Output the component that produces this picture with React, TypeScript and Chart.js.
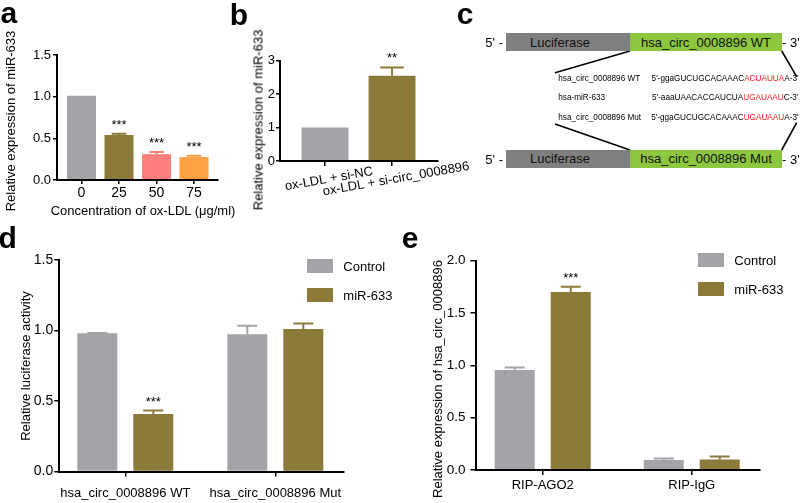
import React, { useEffect, useRef } from 'react';
import { Chart, registerables } from 'chart.js';

Chart.register(...registerables);

const FONT = "'Liberation Sans', Arial, Helvetica, sans-serif";
Chart.defaults.font.family = FONT;
Chart.defaults.color = '#000';

const GRAY = '#a4a3a8';
const OLIVE = '#8b7a3a';
const PINK = '#ff7f7f';
const ORANGE = '#ffa043';

// ---- panel a ----
const aCategories = ['0', '25', '50', '75'];
const aValues = [1.01, 0.54, 0.31, 0.275];
const aErrors = [0, 0.015, 0.025, 0.015];
const aStars = ['', '***', '***', '***'];
const aColors = [GRAY, OLIVE, PINK, ORANGE];

// ---- panel b ----
const bCategories = ['ox-LDL + si-NC', 'ox-LDL + si-circ_0008896'];
const bValues = [1.0, 2.55];
const bErrors = [0, 0.25];
const bStars = ['', '**'];
const bColors = [GRAY, OLIVE];

// ---- panel d ----
const dCategories = ['hsa_circ_0008896 WT', 'hsa_circ_0008896 Mut'];
const seriesNames = ['Control', 'miR-633'];
const dControl = [0.98, 0.974];
const dControlErr = [0.003, 0.06];
const dControlStars = ['', ''];
const dMiR = [0.407, 1.011];
const dMiRErr = [0.025, 0.038];
const dMiRStars = ['***', ''];

// ---- panel e ----
const eCategories = ['RIP-AGO2', 'RIP-IgG'];
const eControl = [0.955, 0.095];
const eControlErr = [0.025, 0.015];
const eControlStars = ['', ''];
const eMiR = [1.7, 0.1];
const eMiRErr = [0.05, 0.03];
const eMiRStars = ['***', ''];

// ---- panel c ----
const seqNames = ['hsa_circ_0008896 WT', 'hsa-miR-633', 'hsa_circ_0008896 Mut'];
const seqPrefix = ["5'-ggaGUCUGCACAAAC", "5'-aaaUAACACCAUCUA", "5'-ggaGUCUGCACAAAC"];
const seqSite = ['ACUAUUA', 'UGAUAAU', 'UGAUAAU'];
const seqSuffix = ["A-3'", "C-3'", "A-3'"];

type Series = { values: number[]; errors: number[]; stars: string[]; colors: string | string[] };
type PanelCfg = {
  left: number; top: number; width: number; height: number;
  yWidth: number; xHeight: number; padTop: number; padRight: number;
  categories: string[]; series: Series[];
  xMin: number; xMax: number; yMax: number; yStep: number; yDecimals: number;
  catPct: number; barPct: number;
  yFont: number; yPad: number; yTickLen: number;
  xFont: number; xPad: number; xTickLen: number; showXLabels: boolean;
  rotated?: { angle: number; dx: number; dy: number; font: number };
};

function BarPanel({ cfg }: { cfg: PanelCfg }) {
  const ref = useRef<HTMLCanvasElement>(null);
  useEffect(() => {
    const c = cfg;
    const overlay = {
      id: 'overlay',
      afterDatasetsDraw(chart: any) {
        const ctx = chart.ctx;
        const ys = chart.scales.y;
        c.series.forEach((s, di) => {
          const meta = chart.getDatasetMeta(di);
          meta.data.forEach((bar: any, i: number) => {
            const color = Array.isArray(s.colors) ? s.colors[i] : s.colors;
            const v = s.values[i];
            const e = s.errors[i];
            const yTop = ys.getPixelForValue(v + e);
            const w = bar.width;
            ctx.save();
            if (e > 0) {
              ctx.strokeStyle = color;
              ctx.lineWidth = 2;
              ctx.beginPath();
              ctx.moveTo(bar.x, ys.getPixelForValue(v));
              ctx.lineTo(bar.x, yTop);
              ctx.moveTo(bar.x - w / 4, yTop);
              ctx.lineTo(bar.x + w / 4, yTop);
              ctx.stroke();
            }
            if (s.stars[i]) {
              ctx.fillStyle = '#000';
              ctx.font = `13px ${FONT}`;
              ctx.textAlign = 'center';
              ctx.textBaseline = 'alphabetic';
              ctx.fillText(s.stars[i], bar.x, yTop - 5);
            }
            ctx.restore();
          });
        });
      },
      afterDraw(chart: any) {
        if (!c.rotated) return;
        const ctx = chart.ctx;
        const xs = chart.scales.x;
        const r = c.rotated;
        c.categories.forEach((label, i) => {
          const px = xs.getPixelForValue(i);
          ctx.save();
          ctx.translate(px + r.dx, chart.chartArea.bottom + r.dy);
          ctx.rotate((-r.angle * Math.PI) / 180);
          ctx.font = `${r.font}px ${FONT}`;
          ctx.fillStyle = '#000';
          ctx.textAlign = 'center';
          ctx.textBaseline = 'middle';
          ctx.fillText(label, 0, 0);
          ctx.restore();
        });
      },
    };
    const chart = new Chart(ref.current as HTMLCanvasElement, {
      type: 'bar',
      data: {
        datasets: c.series.map((s) => ({
          data: s.values.map((v, i) => ({ x: i, y: v })),
          backgroundColor: s.colors as any,
          borderWidth: 0,
          categoryPercentage: c.catPct,
          barPercentage: c.barPct,
        })),
      },
      options: {
        responsive: false,
        animation: false,
        devicePixelRatio: 1,
        events: [],
        layout: { padding: { top: c.padTop, right: c.padRight, left: 0, bottom: 0 } },
        plugins: { legend: { display: false }, tooltip: { enabled: false } },
        scales: {
          x: {
            type: 'linear',
            min: c.xMin,
            max: c.xMax,
            offset: false,
            grid: {
              display: true, offset: false, drawOnChartArea: false, drawTicks: true,
              tickLength: c.xTickLen, color: '#000', lineWidth: 1.5,
            },
            border: { display: true, color: '#000', width: 2, z: 1 },
            ticks: {
              display: c.showXLabels, stepSize: 1, includeBounds: false, autoSkip: false,
              minRotation: 0, maxRotation: 0, padding: c.xPad, color: '#000',
              font: { size: c.xFont },
              callback: (v: any) => (c.categories[v] !== undefined ? c.categories[v] : ''),
            },
            afterFit: (s: any) => { s.height = c.xHeight; },
          } as any,
          y: {
            type: 'linear',
            min: 0,
            max: c.yMax,
            grid: {
              display: true, drawOnChartArea: false, drawTicks: true,
              tickLength: c.yTickLen, color: '#000', lineWidth: 1.5,
            },
            border: { display: true, color: '#000', width: 2, z: 1 },
            ticks: {
              stepSize: c.yStep, padding: c.yPad, color: '#000',
              font: { size: c.yFont },
              callback: (v: any) => Number(v).toFixed(c.yDecimals),
            },
            afterFit: (s: any) => { s.width = c.yWidth; },
          } as any,
        },
      },
      plugins: [overlay],
    });
    return () => chart.destroy();
  }, [cfg]);
  return (
    <canvas
      ref={ref}
      width={cfg.width}
      height={cfg.height}
      style={{ position: 'absolute', left: cfg.left, top: cfg.top, width: cfg.width, height: cfg.height }}
    />
  );
}

const cfgA: PanelCfg = {
  left: 0, top: 0, width: 230, height: 230,
  yWidth: 57, xHeight: 50, padTop: 55, padRight: 12,
  categories: aCategories,
  series: [{ values: aValues, errors: aErrors, stars: aStars, colors: aColors }],
  xMin: -0.653, xMax: 3.64, yMax: 1.5, yStep: 0.5, yDecimals: 1,
  catPct: 1, barPct: 0.773,
  yFont: 13, yPad: 2, yTickLen: 4,
  xFont: 14, xPad: 1, xTickLen: 4, showXLabels: true,
};

const cfgB: PanelCfg = {
  left: 225, top: 0, width: 260, height: 230,
  yWidth: 55, xHeight: 69, padTop: 60.7, padRight: 47,
  categories: bCategories,
  series: [{ values: bValues, errors: bErrors, stars: bStars, colors: bColors }],
  xMin: -0.672, xMax: 1.686, yMax: 3, yStep: 1, yDecimals: 0,
  catPct: 1, barPct: 0.7,
  yFont: 13, yPad: 1, yTickLen: 4,
  xFont: 13, xPad: 0, xTickLen: 5, showXLabels: false,
  rotated: { angle: 10, dx: 4, dy: 18, font: 13 },
};

const cfgD: PanelCfg = {
  left: 0, top: 230, width: 400, height: 273,
  yWidth: 59.3, xHeight: 31.5, padTop: 30, padRight: 56.7,
  categories: dCategories,
  series: [
    { values: dControl, errors: dControlErr, stars: dControlStars, colors: GRAY },
    { values: dMiR, errors: dMiRErr, stars: dMiRStars, colors: OLIVE },
  ],
  xMin: -0.44, xMax: 1.4533, yMax: 1.5, yStep: 0.5, yDecimals: 1,
  catPct: 0.7467, barPct: 0.714,
  yFont: 14, yPad: 1, yTickLen: 5,
  xFont: 13, xPad: 9, xTickLen: 5, showXLabels: true,
};

const cfgE: PanelCfg = {
  left: 400, top: 230, width: 400, height: 273,
  yWidth: 75.5, xHeight: 33, padTop: 30.7, padRight: 40,
  categories: eCategories,
  series: [
    { values: eControl, errors: eControlErr, stars: eControlStars, colors: GRAY },
    { values: eMiR, errors: eMiRErr, stars: eMiRStars, colors: OLIVE },
  ],
  xMin: -0.451, xMax: 1.458, yMax: 2, yStep: 0.5, yDecimals: 1,
  catPct: 0.7517, barPct: 0.714,
  yFont: 13.5, yPad: 5, yTickLen: 5,
  xFont: 13, xPad: 3, xTickLen: 5, showXLabels: true,
};

function VText({ x, y, size, children }: { x: number; y: number; size: number; children: any }) {
  return (
    <div
      style={{
        position: 'absolute', left: x, top: y, fontSize: size, lineHeight: 1, whiteSpace: 'nowrap',
        transform: 'translate(-50%, -50%) rotate(-90deg)',
      }}
    >
      {children}
    </div>
  );
}

function HText({ x, y, size, children }: { x: number; y: number; size: number; children: any }) {
  return (
    <div
      style={{
        position: 'absolute', left: x, top: y, fontSize: size, lineHeight: 1, whiteSpace: 'nowrap',
        transform: 'translate(-50%, -50%)',
      }}
    >
      {children}
    </div>
  );
}

function Letter({ x, y, ch }: { x: number; y: number; ch: string }) {
  return (
    <div style={{ position: 'absolute', left: x, top: y, fontSize: 30, fontWeight: 'bold', lineHeight: '30px' }}>{ch}</div>
  );
}

function LegendItem({ x, y, textX, color, label }: { x: number; y: number; textX: number; color: string; label: string }) {
  return (
    <>
      <div style={{ position: 'absolute', left: x, top: y, width: 26, height: 14, background: color }} />
      <div style={{ position: 'absolute', left: textX, top: y + 7, fontSize: 13, lineHeight: 1, transform: 'translateY(-50%)', whiteSpace: 'nowrap' }}>{label}</div>
    </>
  );
}

function Construct({ top, name }: { top: number; name: string }) {
  const h = 17.7;
  return (
    <>
      <div style={{ position: 'absolute', left: 470, width: 33, top: top + h / 2, transform: 'translateY(-50%)', textAlign: 'right', fontSize: 13, lineHeight: 1, whiteSpace: 'nowrap' }}>5' -</div>
      <div style={{ position: 'absolute', left: 506, top, width: 124, height: h, background: '#808080', display: 'flex', alignItems: 'center', justifyContent: 'center', paddingRight: 16, boxSizing: 'border-box', fontSize: 13, color: '#111' }}>Luciferase</div>
      <div style={{ position: 'absolute', left: 630, top, width: 152, height: h, background: '#8dc63f', display: 'flex', alignItems: 'center', justifyContent: 'center', fontSize: 13, color: '#111', whiteSpace: 'nowrap' }}>{name}</div>
      <div style={{ position: 'absolute', left: 782, top: top + h / 2, transform: 'translateY(-50%)', fontSize: 13, lineHeight: 1, whiteSpace: 'nowrap' }}>- 3'</div>
    </>
  );
}

function PanelC() {
  const rowY = [79, 98.3, 117.7];
  return (
    <>
      <svg style={{ position: 'absolute', left: 0, top: 0 }} width={800} height={503}>
        <g stroke="#000" strokeWidth={1.6}>
          <line x1={630} y1={51} x2={555} y2={72.7} />
          <line x1={781.7} y1={51} x2={796.7} y2={76.7} />
          <line x1={555} y1={124} x2={630} y2={150} />
          <line x1={796.7} y1={122.7} x2={781.7} y2={150} />
        </g>
      </svg>
      <Construct top={33.3} name="hsa_circ_0008896 WT" />
      <Construct top={150} name="hsa_circ_0008896 Mut" />
      {seqNames.map((n, i) => (
        <div key={'n' + i} style={{ position: 'absolute', left: 558.3, top: rowY[i] - 5, height: 10, lineHeight: '10px', fontSize: 8.2, whiteSpace: 'nowrap' }}>{n}</div>
      ))}
      {seqPrefix.map((p, i) => (
        <div key={'s' + i} style={{ position: 'absolute', right: 800 - 798.5, top: rowY[i] - 5, height: 10, lineHeight: '10px', fontSize: 8.2, whiteSpace: 'nowrap', textAlign: 'right' }}>
          {p}
          <span style={{ color: '#ff1a1a' }}>{seqSite[i]}</span>
          {seqSuffix[i]}
        </div>
      ))}
    </>
  );
}

export default function App() {
  return (
    <div
      style={{
        position: 'absolute', left: 0, top: 0, width: 800, height: 503, background: '#fff',
        overflow: 'hidden', fontFamily: FONT, color: '#000',
      }}
    >
      <BarPanel cfg={cfgA} />
      <BarPanel cfg={cfgB} />
      <BarPanel cfg={cfgD} />
      <BarPanel cfg={cfgE} />

      <Letter x={0.5} y={-2} ch="a" />
      <Letter x={229.7} y={-0.4} ch="b" />
      <Letter x={456.8} y={-1.4} ch="c" />
      <Letter x={-1.5} y={223} ch="d" />
      <Letter x={401.8} y={223} ch="e" />

      <VText x={9.5} y={121} size={13}>Relative expression of miR-633</VText>
      <HText x={143} y={210} size={13}>Concentration of ox-LDL (μg/ml)</HText>
      <VText x={257.5} y={120} size={13}>Relative expression of miR-633</VText>
      <VText x={25} y={366} size={13}>Relative luciferase activity</VText>
      <VText x={437} y={379} size={13}>Relative expression of hsa_circ_0008896</VText>

      <LegendItem x={306.7} y={259} textX={343.3} color={GRAY} label={seriesNames[0]} />
      <LegendItem x={306.7} y={287.7} textX={343.3} color={OLIVE} label={seriesNames[1]} />
      <LegendItem x={697.7} y={253.3} textX={734.3} color={GRAY} label={seriesNames[0]} />
      <LegendItem x={697.7} y={281.7} textX={734.3} color={OLIVE} label={seriesNames[1]} />

      <PanelC />
    </div>
  );
}
